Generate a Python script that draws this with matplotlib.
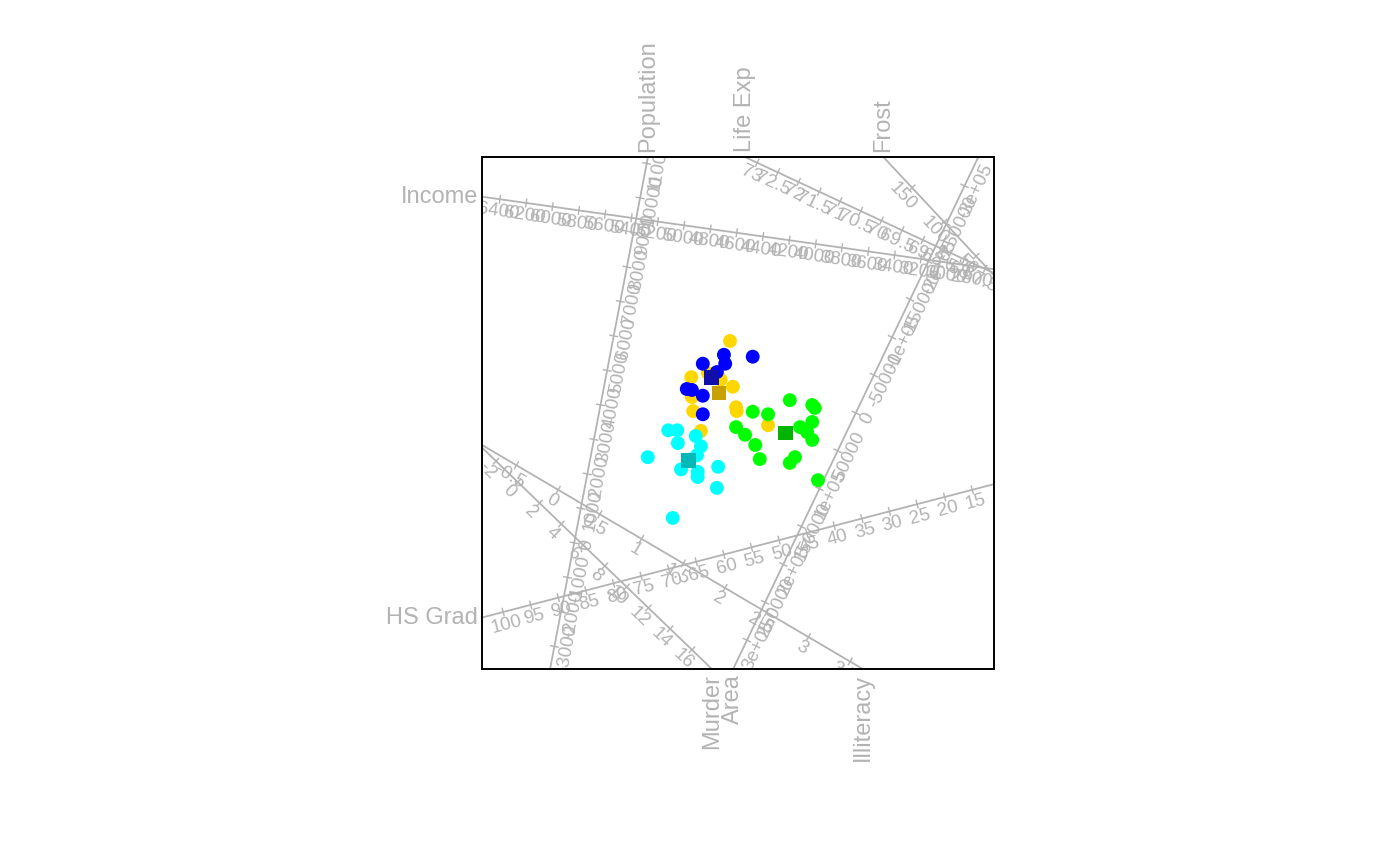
import numpy as np
import matplotlib.pyplot as plt

plt.rcParams['font.family'] = ['Liberation Sans', 'DejaVu Sans']

# Biplot coordinates of the states, per region
west_x = [-1.09, -0.95, -0.94, -0.66, -0.58, -0.64, -1.41, -0.89, -0.63, -0.63, -0.31, -0.33, -1.02]
west_y = [-0.27, -0.27, -0.47, -0.36, -0.52, -0.66, -0.69, -0.88, -0.92, -1.00, -0.84, -1.17, -1.64]

northeast_x = [-0.22, 0.23, -0.55, -0.20, -0.33, -0.80, -0.72, -0.55, -0.55]
northeast_y = [0.91, 0.88, 0.77, 0.77, 0.64, 0.375, 0.36, 0.27, -0.02]

northcentral_x = [-0.125, -0.73, -0.47, -0.27, -0.08, -0.72, -0.70, -0.03, -0.02, -0.58, 0.47, -0.31]
northcentral_y = [1.125, 0.56, 0.625, 0.52, 0.41, 0.25, 0.03, 0.09, 0.03, -0.28, -0.19, 0.58]

south_x = [0.81, 1.16, 1.20, 0.23, 0.47, -0.03, 0.11, 0.97, 1.16, 1.08, 1.16, 0.27, 0.34, 0.89, 0.81, 1.25]
south_y = [0.20, 0.125, 0.08, 0.02, -0.02, -0.22, -0.34, -0.22, -0.14, -0.30, -0.42, -0.50, -0.72, -0.69, -0.78, -1.05]

# Calibrated axes: two calibration values per variable and where they sit
axis_names = ["Population", "Income", "Illiteracy", "Life Exp", "Murder", "HS Grad", "Frost", "Area"]
cal_v0 = [0, 6400, 0, 73, 0, 100, 150, 0]
cal_p0 = [(-2.56, -2.03), (-3.72, 3.34), (-2.81, -1.20), (0.30, 3.91),
          (-3.44, -1.08), (-3.67, -3.11), (2.72, 3.52), (1.84, 0.0)]
cal_v1 = [10000, 3000, 3, 67.5, 16, 15, 50, 300000]
cal_p1 = [(-1.53, 3.36), (3.27, 2.35), (1.10, -3.50), (3.86, 2.25),
          (-0.72, -3.70), (3.66, -1.20), (3.72, 2.45), (0.14, -3.55)]
axis_ticks = [np.arange(-4000, 13001, 1000),
              np.arange(2600, 6601, 200),
              np.arange(-1, 4.01, 0.5),
              np.arange(67, 74.01, 0.5),
              np.arange(-4, 19, 2),
              np.arange(10, 106, 5),
              np.arange(0, 201, 50),
              np.arange(-350000, 350001, 50000)]

grey = '#B3B3B3'
LIM = 4.0


def r_label(v):
    # mimic R's as.character for numbers
    v = float(round(v, 6))
    if v == 0:
        return "0"
    fixed = f"{v:.6f}".rstrip("0").rstrip(".")
    mant, expo = f"{v:.6e}".split("e")
    mant = mant.rstrip("0").rstrip(".")
    sci = f"{mant}e{int(expo):+03d}"
    return sci if len(sci) < len(fixed) else fixed


def exit_point(p0, u):
    # where the ray p0 + s*u leaves the square box
    best = None
    for k in range(2):
        if abs(u[k]) < 1e-12:
            continue
        for edge in (-LIM, LIM):
            s = (edge - p0[k]) / u[k]
            if s <= 0:
                continue
            q = p0 + s * u
            if abs(q[1 - k]) <= LIM + 1e-9 and (best is None or s < best[0]):
                side = {(0, -LIM): 'left', (0, LIM): 'right', (1, -LIM): 'bottom', (1, LIM): 'top'}[(k, edge)]
                best = (s, q, side)
    return best[1], best[2]


fig = plt.figure(figsize=(14, 8.66), dpi=100)
ax = fig.add_axes([482 / 1400, 1 - 669 / 866, 512 / 1400, 512 / 866])
ax.set_xlim(-LIM, LIM)
ax.set_ylim(-LIM, LIM)
ax.set_aspect('equal')
ax.set_xticks([])
ax.set_yticks([])
for sp in ax.spines.values():
    sp.set_linewidth(1.4)
    sp.set_zorder(10)

for name, v0, p0, v1, p1, ticks in zip(axis_names, cal_v0, cal_p0, cal_v1, cal_p1, axis_ticks):
    p0 = np.array(p0)
    d = (np.array(p1) - p0) / (v1 - v0)       # shift per unit of the variable
    u = d / np.linalg.norm(d)
    n = np.array([-u[1], u[0]])
    if n[1] > 0:
        n = -n                                  # tick labels go below the axis
    ang = np.degrees(np.arctan2(u[1], u[0]))
    if ang > 90:
        ang -= 180
    elif ang <= -90:
        ang += 180

    # axis line
    ends = np.array([p0 - 20 * u, p0 + 20 * u])
    ax.plot(ends[:, 0], ends[:, 1], color=grey, lw=1.3, zorder=1)

    # tick marks and labels (only ticks that fall inside the plot region)
    for v in ticks:
        p = p0 + (v - v0) * d
        if np.max(np.abs(p)) > LIM:
            continue
        seg = np.array([p - n * 0.06, p + n * 0.06])
        ax.plot(seg[:, 0], seg[:, 1], color=grey, lw=1.0, zorder=1)
        t = ax.text(p[0] + n[0] * 0.2, p[1] + n[1] * 0.2, r_label(v), color=grey,
                    fontsize=13.5, rotation=ang, rotation_mode='anchor',
                    ha='center', va='center', zorder=2)
        t.set_clip_on(True)
        t.set_clip_box(ax.bbox)

    # axis title at the end where values increase
    q, side = exit_point(p0, d / np.linalg.norm(d))
    if side == 'top':
        ax.text(q[0], LIM + 0.08, name, color=grey, fontsize=17, rotation=90,
                ha='center', va='bottom', clip_on=False)
    elif side == 'bottom':
        ax.text(q[0], -LIM - 0.08, name, color=grey, fontsize=17, rotation=90,
                ha='center', va='top', clip_on=False)
    elif side == 'left':
        ax.text(-LIM - 0.06, q[1], name, color=grey, fontsize=17,
                ha='right', va='center', clip_on=False)
    else:
        ax.text(LIM + 0.06, q[1], name, color=grey, fontsize=17,
                ha='left', va='center', clip_on=False)

# states, then region means
groups = [(northcentral_x, northcentral_y, '#FFD700', '#C8A000'),
          (northeast_x, northeast_y, '#0000FF', '#1010A8'),
          (south_x, south_y, '#00FF00', '#00B400'),
          (west_x, west_y, '#00FFFF', '#00B8B8')]
for gx, gy, col, _ in groups:
    ax.scatter(gx, gy, s=100, color=col, edgecolors='none', zorder=5)
for gx, gy, _, mcol in groups:
    ax.scatter(np.mean(gx), np.mean(gy), s=110, marker='s', color=mcol,
               edgecolors='none', zorder=6)

fig.savefig('out.png', dpi=100)
